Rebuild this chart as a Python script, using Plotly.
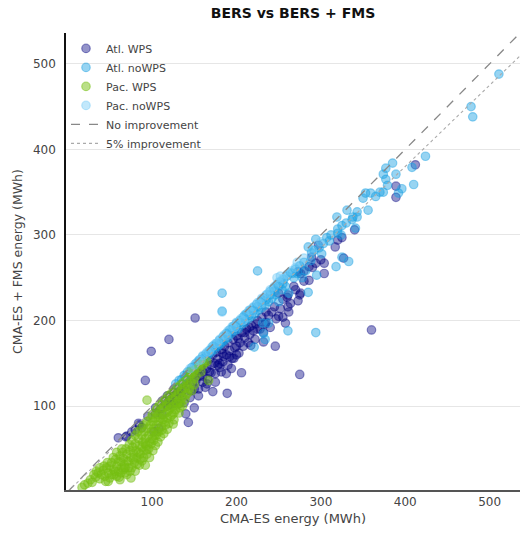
import plotly.graph_objects as go

# ---- data ----
pac_wps = [(17,5),(20,8),(24,10),(27,14),(29,11),(33,17),(36,22),(38,15),(40,20),(42,25),(44,18),(46,28),(48,22),(50,30),(50,16),
 (52,34),(54,26),(55,20),(57,38),(58,30),(60,24),(61,17),(62,14),(62,42),(63,35),(64,28),(65,46),(66,39),(67,32),(68,22),(69,50),
 (70,44),(71,36),(72,28),(73,55),(74,48),(75,40),(75,16),(76,60),(77,52),(78,45),(79,34),(80,66),(80,56),(81,48),(82,40),(83,70),
 (84,62),(85,54),(85,31),(86,44),(87,74),(88,66),(89,58),(90,48),(90,78),(91,70),(92,62),(92,31),(93,54),(94,82),(94,49),(94,107),
 (95,74),(96,66),(97,58),(98,86),(98,78),(99,70),(100,62),(100,90),(101,82),(102,74),(103,66),(104,94),(104,86),(105,78),(106,98),
 (106,70),(107,90),(108,82),(109,102),(110,94),(110,86),(111,76),(112,105),(113,98),(114,90),(115,82),(116,108),(117,100),(118,73),
 (118,93),(119,112),(120,104),(121,96),(122,88),(123,115),(124,108),(125,100),(125,79),(126,92),(127,118),(128,111),(129,104),
 (130,122),(131,114),(132,107),(133,98),(134,125),(135,118),(136,110),(137,128),(138,121),(140,113),(141,131),(142,124),(144,134),
 (146,127),(148,138),(150,142),(152,135),(155,145),(158,140),(162,150),(160,148),(165,152),(167,130),(156,150),(145,140),(150,132),
 (45,12),(52,20),(58,18),(63,22),(66,26),(70,20),(72,35),(76,28),(78,38),(82,32),(84,46),(86,38),(88,52),(90,40),(92,56),(94,44),
 (96,50),(97,40),(99,56),(101,48),(102,60),(104,54),(105,66),(107,58),(108,70),(110,64),(112,72),(113,84),(114,68),(116,78),
 (118,86),(120,80),(122,98),(124,90),(126,84),(128,96),(130,102),(132,92),(134,104),(136,100),(139,108),(142,115),(144,120),
 (147,118),(150,125),(88,36),(80,24),(74,24),(68,28),(56,24),(48,12),(60,35),(64,50),(58,46),(54,40),(47,34),(43,30),(38,28),
 (34,24),(31,20)]

atl_wps = [(60,63),(69,64),(76,70),(80,72),(85,78),(88,75),(92,130),(99,164),(102,70),(108,74),(104,92),(110,97),(112,90),(115,105),
 (118,100),(120,178),(120,110),(122,102),(124,114),(126,103),(128,118),(130,108),(132,103),(132,122),(134,115),(135,112),(136,126),
 (138,119),(140,91),(140,130),(142,124),(143,81),(144,134),(146,118),(148,128),(150,98),(150,138),(151,203),(152,130),(154,142),
 (155,120),(156,135),(158,146),(160,128),(160,140),(162,150),(163,122),(165,144),(166,132),(168,155),(170,139),(170,148),(172,117),
 (172,160),(174,150),(175,138),(176,163),(178,155),(180,145),(182,140),(182,166),(183,162),(184,152),(186,170),(188,160),(189,115),
 (190,148),(190,174),(192,165),(194,144),(195,156),(196,178),(197,156),(198,168),(200,182),(202,179),(203,162),(204,174),(206,139),
 (206,186),(208,170),(210,180),(212,190),(214,174),(216,184),(217,171),(218,194),(220,188),(222,178),(223,196),(225,200),(228,190),
 (230,204),(232,186),(232,175),(234,196),(235,198),(238,206),(240,192),(242,210),(246,170),(247,202),(250,232),(252,214),
 (255,204),(258,197),(260,227),(261,216),(261,230),(264,220),(268,240),(273,223),(273,257),(275,230),(275,137),(276,232),(276,255),
 (280,246),(286,247),(286,263),(289,274),(294,267),(297,288),(300,271),(304,255),(304,267),(317,286),(320,294),(325,297),(327,273),
 (340,306),(360,189),(389,357),(389,344),(412,382),(70,65),(84,80),(95,88),(104,98),(112,106),(118,112),(126,120),
 (150,120),(160,135),(168,140),(178,148),(185,158),(192,158),(200,170),(210,186),(215,192),(225,190),(235,210),(245,216),(250,205),
 (255,225),(262,210),(270,236),(280,258),(290,262),(200,160),(180,150),(165,126),(145,110),(138,104),(155,112),(175,128),(188,138)]

atl_nowps = [(128,126),(132,130),(135,131),(138,136),(140,135),(142,140),(145,141),(147,145),(150,146),(152,150),(154,149),(156,154),
 (158,152),(160,158),(162,155),(164,161),(166,160),(168,165),(170,163),(172,170),(174,166),(176,173),(178,170),(180,177),(182,174),
 (183,232),(183,211),(184,181),(186,178),(188,185),(190,180),(192,189),(194,185),(196,193),(198,188),(200,197),(202,190),(204,200),
 (206,195),(208,204),(210,198),(212,208),(214,202),(216,212),(218,205),(220,215),(221,169),(222,208),(224,219),(225,258),(226,212),
 (228,222),(230,215),(231,197),(232,185),(232,226),(234,178),(234,218),(236,230),(238,197),(238,222),(240,234),(242,226),(244,238),
 (246,230),(248,242),(250,222),(252,245),(254,236),(256,248),(258,240),(260,252),(262,232),(264,256),(266,255),(268,250),(270,260),
 (272,255),(275,264),(278,250),(280,268),(282,258),(285,233),(285,286),(288,270),(289,279),(292,282),(294,295),(294,186),(295,253),
 (298,285),(301,278),(303,290),(307,297),(310,293),(312,300),(318,263),(319,321),(320,307),(320,302),(324,300),(325,311),(325,274),
 (330,314),(331,329),(333,269),(337,318),(338,321),(341,308),(343,327),(343,321),(350,343),(353,349),(356,329),(359,349),(365,345),
 (370,350),(374,350),(374,371),(377,378),(377,365),(379,358),(385,384),(389,371),(392,349),(396,354),(408,379),(410,359),(424,392),
 (478,450),(480,438),(511,488),(261,188),(155,152),(165,158),(175,170),(185,176),(195,190),(205,198),(215,206),(225,216),(235,224),
 (245,234),(255,243),(210,206),(220,212),(230,224),(240,230),(250,240),(200,194),(190,185),(180,172),(170,166),(160,155)]

pac_nowps = [(145,144),(150,148),(155,153),(160,159),(165,163),(170,168),(175,173),(180,178),(183,210),(185,183),(190,188),(195,193),
 (200,198),(205,202),(210,207),(215,212),(220,216),(225,221),(230,226),(235,230),(240,236),(245,240),(250,245),(255,249),(260,254),
 (265,258),(270,262),(248,250),(238,232),(228,220),(218,210),(208,200),(198,192),(188,182),(178,174),(168,164),(158,154),(280,273),
 (290,282),(300,292),(252,252),(272,268)]

ref_x = [0, 540]
series = [
    ("Atl. WPS", atl_wps, "rgba(0,0,128,0.42)"),
    ("Atl. noWPS", atl_nowps, "rgba(24,160,226,0.45)"),
    ("Pac. WPS", pac_wps, "rgba(118,192,18,0.5)"),
    ("Pac. noWPS", pac_nowps, "rgba(110,200,245,0.42)"),
]

FONT = "DejaVu Sans"
fig = go.Figure()
for name, pts, col in series:
    fig.add_trace(go.Scatter(
        x=[p[0] for p in pts], y=[p[1] for p in pts], mode="markers", name=name,
        marker=dict(size=8.5, color=col, line=dict(color=col, width=1.2))))

fig.add_trace(go.Scatter(x=ref_x, y=ref_x, mode="lines", name="No improvement",
                         line=dict(color="#888888", dash="dash", width=1.3)))
fig.add_trace(go.Scatter(x=ref_x, y=[0.95 * v for v in ref_x], mode="lines", name="5% improvement",
                         line=dict(color="#aaaaaa", dash="dot", width=1.1)))

fig.update_layout(
    width=521, height=533,
    margin=dict(l=66, r=1, t=33, b=43),
    plot_bgcolor="white", paper_bgcolor="white",
    font=dict(family=FONT, size=12, color="#444"),
    title=dict(text="<b>BERS vs BERS + FMS</b>", x=(66 + 520) / 2 / 521, xanchor="center",
               y=0.975, yanchor="middle", font=dict(size=14, color="#111", family=FONT)),
    legend=dict(x=0.0, y=0.998, xanchor="left", yanchor="top", bgcolor="rgba(255,255,255,0)",
                font=dict(size=11, color="#444"), itemwidth=30, tracegroupgap=0),
    showlegend=True,
)
fig.update_xaxes(range=[-2, 536], tickvals=[100, 200, 300, 400, 500], showgrid=False, zeroline=False,
                 showline=True, linecolor="#555", linewidth=1.5, ticks="",
                 title=dict(text="CMA-ES energy (MWh)", standoff=6, font=dict(size=13, color="#444")))
fig.update_yaxes(range=[2, 536], tickvals=[100, 200, 300, 400, 500], showgrid=True, gridcolor="#e6e6e6",
                 gridwidth=1, zeroline=False, showline=True, linecolor="#111", linewidth=1.5, ticks="",
                 ticklabelstandoff=6,
                 title=dict(text="CMA-ES + FMS energy (MWh)", standoff=8, font=dict(size=12.5, color="#444")))

fig.write_html("out.html")
